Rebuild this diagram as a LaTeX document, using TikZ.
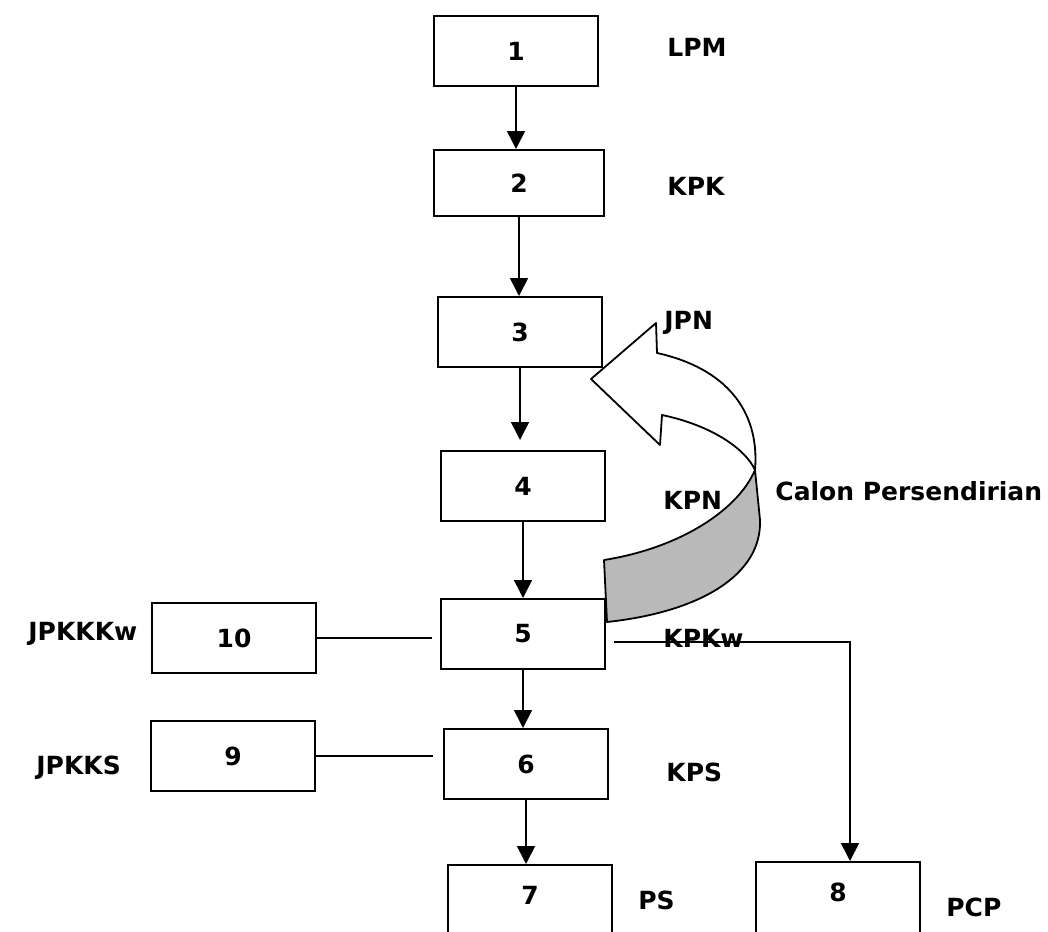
\documentclass[tikz,border=0pt]{standalone}
\usepackage{fontspec}
\setmainfont{DejaVu Sans}
\usetikzlibrary{arrows.meta,calc}
\begin{document}
\begin{tikzpicture}[x=0.5pt,y=-0.5pt,
  box/.style={draw,line width=1pt,minimum width=82pt,minimum height=35pt,inner sep=0pt,font=\bfseries\fontsize{12.5}{13}\selectfont},
  lab/.style={anchor=west,inner sep=0pt,font=\bfseries\fontsize{12.5}{13}\selectfont},
  arr/.style={line width=0.8pt,-{Triangle[width=9pt,length=9pt]}},
  ln/.style={line width=0.8pt}]
\clip (0,0) rectangle (1048,931);
\fill[white] (0,0) rectangle (1048,931);
% boxes
\node[box] (b1) at (516,51) {1};
\node[box,minimum width=85pt,minimum height=33pt] (b2) at (519,183) {2};
\node[box] (b3) at (520,332) {3};
\node[box] (b4) at (523,486) {4};
\node[box] (b5) at (523,634) {5};
\node[box] (b6) at (526,764) {6};
\node[box,minimum height=45pt] (b7) at (530,910) {\raisebox{15pt}{7}};
\node[box,minimum height=45pt] (b8) at (838,907) {\raisebox{15pt}{8}};
\node[box] (b10) at (234,638) {10};
\node[box] (b9) at (233,756) {9};
% labels
\node[lab] (lLPM) at (667,47) {LPM};
\node[lab] (lKPK) at (667,186) {KPK};
\node[lab] (lJPN) at (664,323) {JPN};
\node[lab] (lKPN) at (663,500) {KPN};
\node[lab] (lKPKw) at (663,638) {KPKw};
\node[lab] (lKPS) at (666,772) {KPS};
\node[lab] (lPS) at (638,900) {PS};
\node[lab] (lPCP) at (946,907) {PCP};
\node[lab] (lJPKKKw) at (28,634) {JPKKKw};
\node[lab] (lJPKKS) at (36,768) {JPKKS};
\node[lab] (lCalon) at (775,491) {Calon Persendirian};
% arrows
\draw[arr] (b1.south) -- (b1.south |- b2.north);
\draw[arr] (b2.south) -- (b2.south |- b3.north);
\draw[arr] (b3.south) -- ($(b3.south |- b4.north)+(0,-10)$);
\draw[arr] (b4.south) -- (b4.south |- b5.north);
\draw[arr] (b5.south) -- (b5.south |- b6.north);
\draw[arr] (b6.south) -- (b6.south |- b7.north);
\draw[ln] (b10.east) -- ($(b5.west |- b10.east)+(-8,0)$);
\draw[ln] (b9.east) -- ($(b6.west |- b9.east)+(-10,0)$);
\draw[arr] ($(b5.east)+(8,8)$) -| ($(b8.north)+(12,0)$);
% curved block arrow
\draw[line width=0.9pt,fill=white,line join=round]
  (755,470) .. controls (760,410) and (725,368) .. (657,353)
  -- (656,323) -- (591,379) -- (660,445) -- (662,415)
  .. controls (710,425) and (745,448) .. (755,470) -- cycle;
\draw[line width=0.9pt,fill=gray!55,line join=round]
  (755,470) .. controls (738,510) and (680,548) .. (604,560)
  -- (607,622) .. controls (700,612) and (762,575) .. (760,520)
  -- cycle;
\end{tikzpicture}
\end{document}
